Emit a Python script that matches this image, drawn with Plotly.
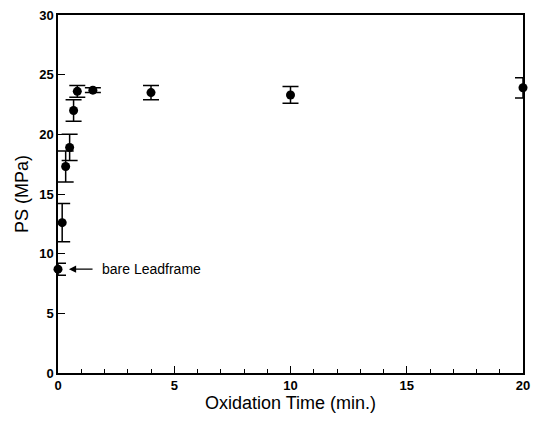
import plotly.graph_objects as go

time_min = [0, 0.18, 0.33, 0.5, 0.67, 0.83, 1.5, 4, 10, 20]
ps_mpa = [8.7, 12.6, 17.3, 18.9, 22.0, 23.6, 23.7, 23.5, 23.3, 23.9]
ps_err = [0.5, 1.6, 1.3, 1.1, 0.9, 0.5, 0.2, 0.6, 0.7, 0.85]

x_ticks = [0, 5, 10, 15, 20]
y_ticks = [0, 5, 10, 15, 20, 25, 30]

fig = go.Figure()
fig.add_trace(go.Scatter(
    x=time_min, y=ps_mpa, mode="markers",
    marker=dict(color="black", size=9),
    error_y=dict(type="data", array=ps_err, visible=True, color="black",
                 thickness=1.5, width=8),
    showlegend=False, cliponaxis=False,
))

font_family = "Liberation Sans, Arial, sans-serif"
fig.update_layout(
    width=534, height=421,
    margin=dict(l=58, r=11, t=15, b=48),
    paper_bgcolor="white", plot_bgcolor="white",
    font=dict(family=font_family, color="black"),
    xaxis=dict(
        range=[0, 20], tickvals=x_ticks, ticks="inside", ticklen=7,
        tickwidth=1.2, tickcolor="black", automargin=False,
        minor=dict(dtick=1, ticks="inside", ticklen=4, tickcolor="black", tickwidth=1),
        showline=True, linecolor="black", linewidth=1.5, mirror=True,
        showgrid=False, zeroline=False,
        tickfont=dict(size=13, family=font_family, weight="bold"),
        title=dict(text="Oxidation Time (min.)", font=dict(size=18), standoff=4),
    ),
    yaxis=dict(
        range=[0, 30], tickvals=y_ticks, ticks="inside", ticklen=7,
        tickwidth=1.2, tickcolor="black", automargin=False,
        showline=True, linecolor="black", linewidth=1.5, mirror=True,
        showgrid=False, zeroline=False,
        tickfont=dict(size=13, family=font_family, weight="bold"),
        title=dict(text="PS (MPa)", font=dict(size=18), standoff=6),
    ),
)

fig.add_annotation(
    x=0.47, y=ps_mpa[0], xref="x", yref="y",
    ax=1.55, ay=ps_mpa[0], axref="x", ayref="y",
    text="", showarrow=True, arrowhead=2, arrowsize=1.2, arrowwidth=1.2,
    arrowcolor="black",
)
fig.add_annotation(
    x=1.8, y=ps_mpa[0], xref="x", yref="y", xanchor="left",
    text="bare Leadframe", showarrow=False,
    font=dict(size=14, family=font_family),
)

fig.write_html("out.html", config={"displayModeBar": False},
               post_script="document.body.style.margin='0';document.body.style.overflow='hidden';")
